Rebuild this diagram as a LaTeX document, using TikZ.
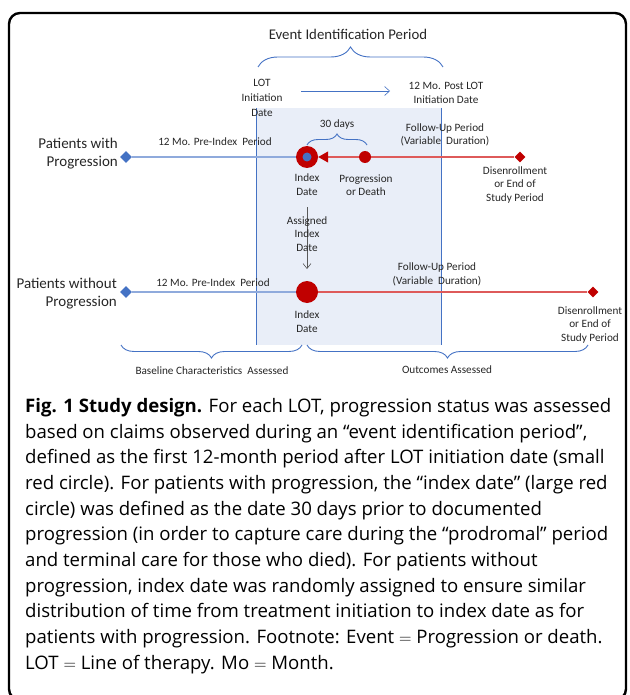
\documentclass[tikz,border=0pt]{standalone}
\usepackage{fontspec}
\setmainfont{Carlito}
\newfontfamily\capfont{Open Sans}
\usetikzlibrary{decorations.pathreplacing,arrows.meta,shapes.geometric}
\definecolor{oblue}{HTML}{4472C4}
\definecolor{lblue}{HTML}{8FAADC}
\definecolor{dred}{HTML}{C00000}
\definecolor{lred}{HTML}{DE5A5A}
\definecolor{shadec}{HTML}{E9EEF8}
\definecolor{txtc}{HTML}{262626}
\definecolor{grayc}{HTML}{595959}
\tikzset{
  lbl/.style={font=\fontsize{11.2}{13.5}\selectfont, text=txtc, align=center, inner sep=0pt},
  biglbl/.style={font=\fontsize{15}{18}\selectfont, text=txtc, align=right, inner sep=0pt},
  ttl/.style={font=\fontsize{14.8}{17}\selectfont, text=txtc, inner sep=0pt},
  bdia/.style={diamond, fill=oblue, minimum width=12pt, minimum height=12pt, inner sep=0pt},
  rdia/.style={diamond, fill=dred, minimum width=11pt, minimum height=11pt, inner sep=0pt},
  bigdot/.style={circle, fill=dred, minimum size=22pt, inner sep=0pt},
  smalldot/.style={circle, fill=dred, minimum size=12pt, inner sep=0pt},
  preline/.style={lblue, line width=1.4pt},
  redline/.style={lred, line width=1.1pt},
  bracec/.style={oblue, line width=0.9pt, decorate},
}
\begin{document}
\begin{tikzpicture}[x=1pt,y=-1pt]
\useasboundingbox (0,0) rectangle (629,695);
% frame
\draw[black, line width=2.4pt, rounded corners=11pt] (9,13) rectangle (626,700);
% shaded event period
\fill[shadec] (256,108) rectangle (441,345);
\draw[oblue, line width=0.9pt] (256,108) -- (256,345);
\draw[oblue, line width=0.9pt] (441,108) -- (441,345);
% title and top brace
\node[ttl] (evt) at (348,34) {Event Identification Period};
\coordinate (tb1) at (258,67);
\coordinate (tb2) at (443,67);
\draw[bracec, decoration={brace, amplitude=20pt}] (tb1) -- (tb2);
% LOT labels
\node[lbl, font=\fontsize{11.2}{15}\selectfont] (lot) at (262,98) {LOT\\Initiation\\Date};
\node[lbl, font=\fontsize{11.2}{14.5}\selectfont] (post) at (446,93) {12 Mo. Post LOT\\Initiation Date};
\coordinate (ta1) at (301,91);
\coordinate (ta2) at (390,91);
\draw[oblue, line width=0.6pt, -{Straight Barb[length=5pt,width=9pt]}] (ta1) -- (ta2);
% row 1
\node[biglbl, anchor=east] (pw) at (118,154) {Patients with\\Progression};
\node[bdia] (d1) at (126,157) {};
\node[bigdot] (idx1) at (307,157) {};
\node[circle, fill=oblue, minimum size=9pt, inner sep=0pt] (idx1in) at (idx1) {};
\node[smalldot] (prog) at (365,157) {};
\node[rdia] (dis1) at (520,157) {};
\draw[preline] (d1) -- (idx1);
\draw[redline] (prog) -- (dis1);
\draw[redline, -{Triangle[length=10pt,width=11pt,color=dred,fill=dred]}] (prog) -- (idx1);
\node[lbl] (pre1) at (215,142) {12 Mo. Pre-Index\ \ Period};
\node[lbl] (fu1) at (445,135) {Follow-Up Period\\(Variable\ \ Duration)};
\node[lbl] (thirty) at (337,125) {30 days};
\coordinate (b30a) at (307,145);
\coordinate (b30b) at (367,145);
\draw[bracec, decoration={brace, amplitude=11pt}] (b30a) -- (b30b);
\node[lbl] (idxl1) at (307,184.5) {Index\\Date};
\node[lbl] (progl) at (366,185) {Progression\\or Death};
\node[lbl] (disl1) at (515,185) {Disenrollment\\or End of\\Study Period};
% vertical assigned arrow
\coordinate (va1) at (307,207);
\coordinate (va2) at (307,269);
\draw[grayc, line width=0.6pt, -{Straight Barb[length=5pt,width=8pt]}] (va1) -- (va2);
\node[lbl] (asg) at (307,234) {Assigned\\Index\\Date};
% row 2
\node[biglbl, anchor=east] (pwo) at (117,294) {Patients without\\Progression};
\node[bdia] (d2) at (126,292) {};
\node[bigdot] (idx2) at (307,292) {};
\node[rdia] (dis2) at (593,292) {};
\draw[preline] (d2) -- (idx2);
\draw[redline] (idx2) -- (dis2);
\node[lbl] (pre2) at (213,283) {12 Mo. Pre-Index\ \ Period};
\node[lbl] (fu2) at (437,274.5) {Follow-Up Period\\(Variable\ \ Duration)};
\node[lbl] (idxl2) at (307,321.5) {Index\\Date};
\node[lbl] (disl2) at (590,325) {Disenrollment\\or End of\\Study Period};
% bottom braces
\coordinate (bb1) at (121,345);
\coordinate (bb2) at (302,345);
\coordinate (bb3) at (307,345);
\coordinate (bb4) at (588,345);
\draw[bracec, decoration={brace, amplitude=13pt}] (bb2) -- (bb1);
\draw[bracec, decoration={brace, amplitude=13pt}] (bb4) -- (bb3);
\node[lbl] (base) at (212,371) {Baseline Characteristics\ \ Assessed};
\node[lbl] (outc) at (447,370) {Outcomes Assessed};
% caption
\node[anchor=north west, inner sep=0pt, align=left, text=black,
      font=\capfont\fontsize{18.6}{25.7}\selectfont] (cap) at (25,398)
{\textbf{Fig. 1 Study design.} For each LOT, progression status was assessed\\
based on claims observed during an “event identification period”,\\
defined as the first 12-month period after LOT initiation date (small\\
red circle). For patients with progression, the “index date” (large red\\
circle) was defined as the date 30 days prior to documented\\
progression (in order to capture care during the “prodromal” period\\
and terminal care for those who died). For patients without\\
progression, index date was randomly assigned to ensure similar\\
distribution of time from treatment initiation to index date as for\\
patients with progression. Footnote: Event $=$ Progression or death.\\
LOT $=$ Line of therapy. Mo $=$ Month.};
\end{tikzpicture}
\end{document}
